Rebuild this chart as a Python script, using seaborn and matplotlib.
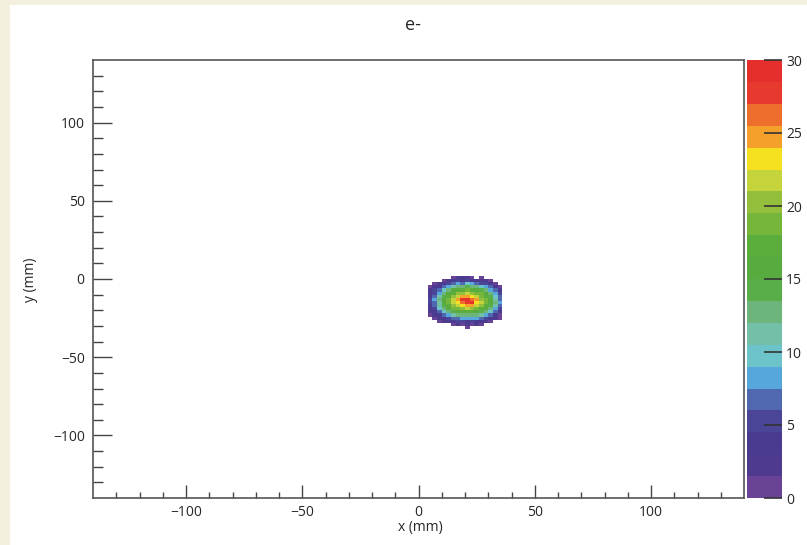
import numpy as np
import pandas as pd
import seaborn as sns
import matplotlib.pyplot as plt
from matplotlib.colors import ListedColormap
from matplotlib.patches import Rectangle

# centres of the 2 mm bins that have entries (everything else is empty)
x_centres = [5, 7, 9, 11, 13, 15, 17, 19, 21, 23, 25, 27, 29, 31, 33, 35]
y_centres = [1, -1, -3, -5, -7, -9, -11, -13, -15, -17, -19, -21, -23, -25, -27, -29, -31]

# counts per bin, rows follow y_centres, columns follow x_centres
counts = [
    [0, 0, 0, 0, 0, 1, 2, 3, 2, 1, 0, 1, 0, 0, 0, 0],
    [0, 0, 0, 1, 2, 3, 5, 3, 5, 3, 3, 2, 3, 1, 0, 0],
    [0, 1, 2, 3, 5, 7, 8, 7, 10, 8, 7, 5, 5, 3, 1, 0],
    [1, 3, 3, 7, 8, 11, 12, 13, 14, 12, 12, 10, 8, 7, 3, 1],
    [2, 5, 7, 10, 12, 15, 16, 17, 18, 17, 16, 14, 13, 8, 7, 3],
    [3, 5, 8, 12, 16, 17, 20, 20, 21, 20, 19, 18, 15, 12, 8, 5],
    [3, 7, 11, 14, 17, 20, 21, 24, 25, 23, 22, 19, 17, 14, 10, 7],
    [5, 8, 12, 15, 18, 21, 24, 27, 29, 26, 24, 20, 18, 15, 11, 7],
    [5, 7, 11, 16, 18, 21, 23, 26, 28, 30, 23, 21, 18, 16, 12, 8],
    [3, 7, 11, 14, 17, 20, 22, 23, 25, 24, 21, 20, 17, 14, 11, 7],
    [3, 5, 10, 12, 15, 18, 19, 20, 21, 20, 19, 17, 16, 12, 8, 5],
    [2, 3, 7, 10, 12, 14, 17, 17, 17, 17, 16, 14, 12, 10, 7, 3],
    [1, 3, 3, 7, 8, 11, 12, 13, 13, 13, 12, 11, 8, 7, 3, 1],
    [0, 1, 2, 3, 5, 7, 7, 8, 8, 8, 8, 7, 5, 3, 2, 1],
    [0, 0, 1, 2, 3, 3, 5, 5, 3, 5, 3, 3, 2, 1, 0, 0],
    [0, 0, 0, 0, 0, 1, 2, 1, 2, 1, 2, 1, 0, 0, 0, 0],
    [0, 0, 0, 0, 0, 0, 0, 0, 1, 0, 0, 0, 0, 0, 0, 0],
]

# 20 colour bands of the palette, from 0 up to 30
band_colours = [
    '#6b4396', '#4f3b8e', '#4b3b90', '#4a4597', '#5068b0',
    '#56a8dc', '#6cc3c9', '#74bfa8', '#6db57b', '#5aae4a',
    '#57ab3f', '#5cae3c', '#75b63b', '#93bf3c', '#c5d43a',
    '#f5e11f', '#f4a02b', '#ee6f2d', '#e8392f', '#e52f2c',
]

rows = []
for i, yc in enumerate(y_centres):
    for j, xc in enumerate(x_centres):
        if counts[i][j] > 0:
            rows.append({'x': xc, 'y': yc, 'n': counts[i][j]})
df = pd.DataFrame(rows)

sns.set_style("ticks")
plt.rcParams['font.family'] = ['Open Sans', 'DejaVu Sans']

W, H = 807, 545
fig = plt.figure(figsize=(W / 100, H / 100), dpi=100, facecolor='#f4f0df')
fig.add_artist(Rectangle((10 / W, 0), 1, 540 / H, transform=fig.transFigure,
                         facecolor='white', edgecolor='none', zorder=-10))

ax = fig.add_axes([93 / W, 1 - 498 / H, 651 / W, 438 / H])
cax = fig.add_axes([747 / W, 1 - 498 / H, 35 / W, 438 / H])

cmap = ListedColormap(band_colours)
sns.histplot(data=df, x='x', y='y', weights='n', binwidth=2,
             binrange=((-140, 140), (-140, 140)), cmap=cmap,
             vmin=0, vmax=30, cbar=True, cbar_ax=cax, ax=ax)

ax.set_xlim(-140, 140)
ax.set_ylim(-140, 140)
ax.set_xlabel('')
ax.set_ylabel('')
ax.set_xticks([-100, -50, 0, 50, 100])
ax.set_yticks([-100, -50, 0, 50, 100])
ax.set_xticks(np.arange(-130, 131, 10), minor=True)
ax.set_yticks(np.arange(-130, 131, 10), minor=True)
ax.tick_params(axis='x', which='major', direction='in', length=9.5, width=1, color='#444444', pad=5, labelsize=10)
ax.tick_params(axis='x', which='minor', direction='in', length=4.5, width=1, color='#444444')
ax.tick_params(axis='y', which='major', direction='in', length=14, width=1, color='#444444', pad=6, labelsize=10)
ax.tick_params(axis='y', which='minor', direction='in', length=7, width=1, color='#444444')
for s in ax.spines.values():
    s.set_visible(True)
    s.set_color('#555555')
    s.set_linewidth(1.2)

cbar = ax.collections[0].colorbar
cbar.outline.set_visible(False)
cbar.set_ticks([0, 5, 10, 15, 20, 25, 30])
cax.set_axisbelow(False)
cax.yaxis.set_zorder(10)
cax.tick_params(direction='in', length=13, width=1.2, color='#333333', labelsize=10, pad=3)
cax.minorticks_off()

fig.text(413 / W, 1 - 25 / H, 'e-', ha='center', va='center', fontsize=13)
fig.text(420 / W, 1 - 528 / H, 'x (mm)', ha='center', va='center', fontsize=10)
fig.text(30 / W, 1 - 280 / H, 'y (mm)', ha='center', va='center', fontsize=10, rotation=90)

fig.savefig('out.png', dpi=100, facecolor=fig.get_facecolor())
